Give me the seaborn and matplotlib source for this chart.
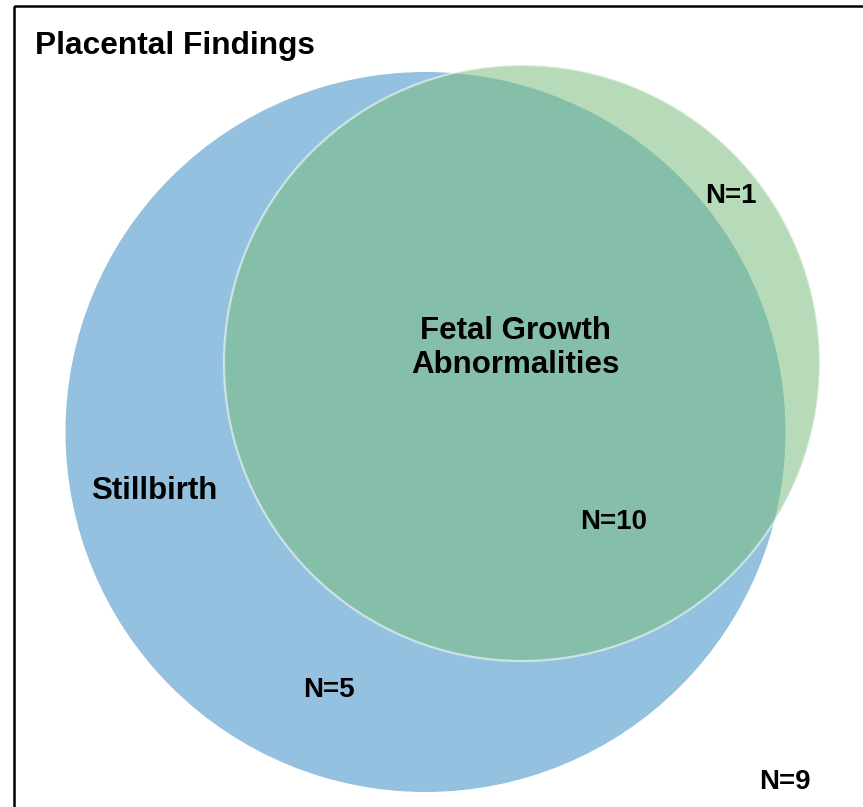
import matplotlib
matplotlib.use("Agg")
import matplotlib.pyplot as plt
from matplotlib.patches import Circle, Rectangle
import seaborn as sns

# Venn data: set names and region counts
set_names = ['Stillbirth', 'Fetal Growth\nAbnormalities']
only_stillbirth = 5
only_fetal = 1
both = 10
neither = 9
title = 'Placental Findings'

sns.set_theme(style='white')
plt.rcParams['font.family'] = ['Liberation Sans', 'DejaVu Sans']
plt.rcParams['text.color'] = 'black'

blue = '#94c1df'
green = (122 / 255, 190 / 255, 125 / 255)

fig = plt.figure(figsize=(8.63, 8.07), dpi=100)
ax = fig.add_axes([0, 0, 1, 1])
ax.set_xlim(0, 863)
ax.set_ylim(807, 0)
ax.set_aspect('equal')
ax.axis('off')

# frame (right and bottom fall outside the picture)
ax.add_patch(Rectangle((14, 6), 870, 830, fill=False, edgecolor='black', linewidth=1.8))

# circles
ax.add_patch(Circle((425.5, 432), 360, facecolor=blue, edgecolor='none'))
ax.add_patch(Circle((522, 363), 298, facecolor=green, alpha=0.54, edgecolor='none'))
ax.add_patch(Circle((522, 363), 298, fill=False, edgecolor='white', alpha=0.55, linewidth=1.6))

ax.text(35, 46, title, fontsize=22.8, fontweight='bold', ha='left', va='center', color='black')

ax.text(154, 491, set_names[0], fontsize=22.5, fontweight='bold', ha='center', va='center',
        color='black')
ax.text(515, 348, set_names[1], fontsize=22.5, fontweight='bold', ha='center', va='center',
        linespacing=1.15, color='black')

lab = dict(fontsize=20, fontweight='bold', ha='center', va='center', color='black')
ax.text(731, 196, f'N={only_fetal}', **lab)
ax.text(614, 522, f'N={both}', **lab)
ax.text(329, 690, f'N={only_stillbirth}', **lab)
ax.text(785, 782, f'N={neither}', **lab)

fig.savefig('out.png', dpi=100)
